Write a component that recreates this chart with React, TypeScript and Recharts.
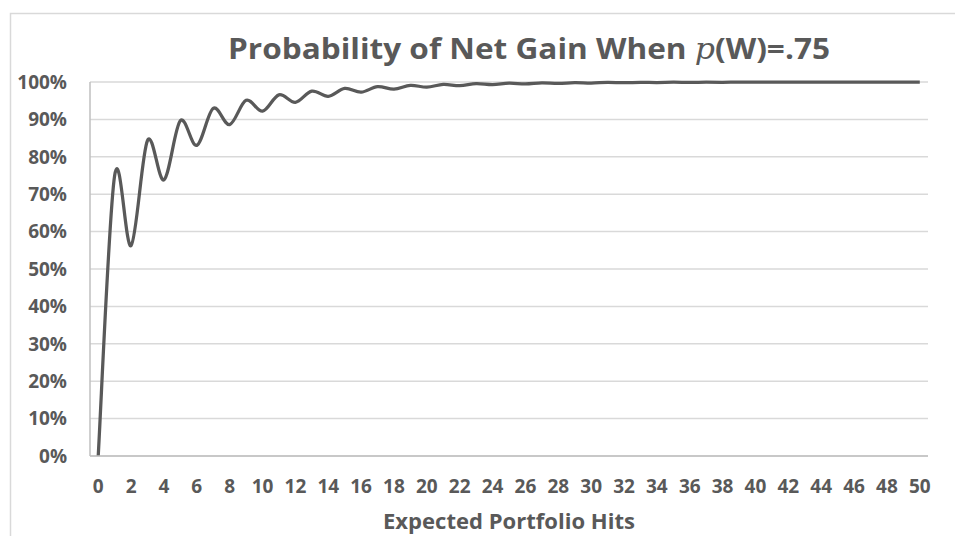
import React from "react";
import { LineChart, Line, XAxis, YAxis, CartesianGrid } from "recharts";

const hits: number[] = Array.from({ length: 51 }, (_, i) => i);

const probability: number[] = [
  0.0, 0.75, 0.5625, 0.8438, 0.7383, 0.8965, 0.8306, 0.9294, 0.8862, 0.9511,
  0.9219, 0.9657, 0.9456, 0.9757, 0.9617, 0.9827, 0.9729, 0.9876, 0.9807, 0.9911,
  0.9861, 0.9936, 0.99, 0.9954, 0.9928, 0.9967, 0.9948, 0.9976, 0.9962, 0.9983,
  0.9973, 0.9988, 0.998, 0.9991, 0.9986, 0.9994, 0.999, 0.9995, 0.9993, 0.9997,
  0.9995, 0.9998, 0.9996, 0.9998, 0.9997, 0.9999, 0.9998, 0.9999, 0.9999, 0.9999,
  0.9999,
];

const xTicks: number[] = [0, 2, 4, 6, 8, 10, 12, 14, 16, 18, 20, 22, 24, 26, 28, 30, 32, 34, 36, 38, 40, 42, 44, 46, 48, 50];
const yTicks: number[] = [0, 0.1, 0.2, 0.3, 0.4, 0.5, 0.6, 0.7, 0.8, 0.9, 1.0];

const data = hits.map((h, i) => ({ x: h, y: probability[i] }));

// Excel-like smoothing (Catmull-Rom style bezier)
const smoothCurve: any = (context: any) => {
  let pts: number[][] = [];
  return {
    areaStart() {},
    areaEnd() {},
    lineStart() {
      pts = [];
    },
    point(x: number, y: number) {
      pts.push([+x, +y]);
    },
    lineEnd() {
      if (!pts.length) return;
      context.moveTo(pts[0][0], pts[0][1]);
      for (let i = 0; i < pts.length - 1; i++) {
        const p0 = pts[i - 1] || pts[i];
        const p1 = pts[i];
        const p2 = pts[i + 1];
        const p3 = pts[i + 2] || p2;
        context.bezierCurveTo(
          p1[0] + (p2[0] - p0[0]) / 6,
          p1[1] + (p2[1] - p0[1]) / 6,
          p2[0] - (p3[0] - p1[0]) / 6,
          p2[1] - (p3[1] - p1[1]) / 6,
          p2[0],
          p2[1]
        );
      }
    },
  };
};

const FONT = "'Open Sans', sans-serif";
const TEXT = "#595959";

export default function App() {
  return (
    <div style={{ position: "absolute", left: 0, top: 0, width: 955, height: 536, background: "#fff", overflow: "hidden" }}>
      <LineChart width={955} height={536} data={data} margin={{ top: 82, right: 27, bottom: 50, left: 0 }}>
        <CartesianGrid vertical={false} stroke="#d9d9d9" strokeWidth={1.5} />
        <XAxis
          dataKey="x"
          type="number"
          height={30}
          domain={[-0.5, 50.5]}
          ticks={xTicks}
          interval={0}
          tickLine={false}
          axisLine={{ stroke: "#bfbfbf", strokeWidth: 1.5 }}
          tickMargin={18}
          tick={{ fill: TEXT, fontSize: 19, fontWeight: 700, fontFamily: FONT }}
        />
        <YAxis
          type="number"
          width={90}
          domain={[0, 1]}
          ticks={yTicks}
          interval={0}
          tickLine={false}
          axisLine={{ stroke: "#bfbfbf", strokeWidth: 1.5 }}
          tickMargin={17}
          tickFormatter={(v: number) => `${Math.round(v * 100)}%`}
          tick={{ fill: TEXT, fontSize: 19, fontWeight: 700, fontFamily: FONT }}
        />
        <Line
          dataKey="y"
          type={smoothCurve}
          stroke="#595959"
          strokeWidth={3.25}
          dot={false}
          activeDot={false}
          isAnimationActive={false}
        />
      </LineChart>
      <svg width={955} height={536} style={{ position: "absolute", left: 0, top: 0, pointerEvents: "none" }}>
        <rect x={10.5} y={13.5} width={990} height={600} fill="none" stroke="#d9d9d9" strokeWidth={1.5} />
        <text x={228} y={59} fill={TEXT} fontFamily={FONT} fontWeight={700} fontSize={29} textLength={602} lengthAdjust="spacingAndGlyphs">
          Probability of Net Gain When{" "}
          <tspan fontFamily="'DejaVu Serif', serif" fontStyle="italic" fontWeight={400}>p</tspan>
          (W)=.75
        </text>
        <text x={509} y={529} textAnchor="middle" fill={TEXT} fontFamily={FONT} fontWeight={700} fontSize={21} textLength={252} lengthAdjust="spacingAndGlyphs">
          Expected Portfolio Hits
        </text>
      </svg>
    </div>
  );
}
